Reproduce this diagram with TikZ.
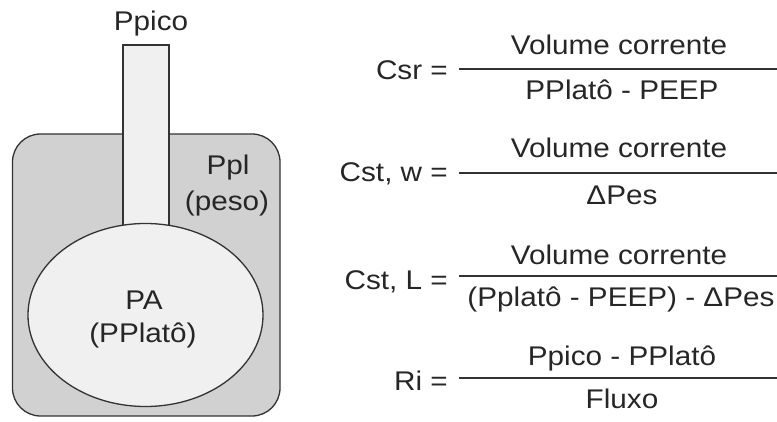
\documentclass[tikz,border=0pt]{standalone}
\usepackage{fontspec}
\setmainfont{Liberation Sans}[FakeStretch=1.1]
\begin{document}
\begin{tikzpicture}[x=1pt,y=-1pt,
  outline/.style={draw=black!80, line width=1.3pt},
  txt/.style={font=\fontsize{27}{30}\selectfont, text=black!85, inner sep=0pt},
  fracbar/.style={draw=black!80, line width=1.8pt}]
\useasboundingbox (0,0) rectangle (777,422);
% chest wall (pleural space)
\draw[outline, fill=black!18, rounded corners=28pt] (12.5,134) rectangle (280,416);
% airway tube and alveolus
\draw[outline, fill=black!6] (123,45) rectangle (169,240);
\draw[outline, fill=black!6] (145.5,315) ellipse [x radius=117.5, y radius=91.5];
% labels of the lung model
\node[txt, anchor=base] (ppico) at (151,31) {Ppico};
\node[txt, anchor=base] (ppl) at (228,175) {Ppl};
\node[txt, anchor=base] (peso) at (227,211) {(peso)};
\node[txt, anchor=base] (pa) at (144,309) {PA};
\node[txt, anchor=base] (pplato) at (143,342) {(PPlatô)};
% formulas
\coordinate (b1s) at (459,69);  \coordinate (b1e) at (777,69);
\coordinate (b2s) at (459,173); \coordinate (b2e) at (777,173);
\coordinate (b3s) at (459,276); \coordinate (b3e) at (777,276);
\coordinate (b4s) at (459,378); \coordinate (b4e) at (777,378);
\draw[fracbar] (b1s) -- (b1e);
\draw[fracbar] (b2s) -- (b2e);
\draw[fracbar] (b3s) -- (b3e);
\draw[fracbar] (b4s) -- (b4e);
\node[txt, anchor=base east] (csr) at (448,80) {Csr =};
\node[txt, anchor=base] (n1) at (619,55) {Volume corrente};
\node[txt, anchor=base] (d1) at (622,100) {PPlatô - PEEP};
\node[txt, anchor=base east] (cstw) at (448,182) {Cst, w =};
\node[txt, anchor=base] (n2) at (619,158) {Volume corrente};
\node[txt, anchor=base] (d2) at (622,205) {ΔPes};
\node[txt, anchor=base east] (cstl) at (448,290) {Cst, L =};
\node[txt, anchor=base] (n3) at (619,265) {Volume corrente};
\node[txt, anchor=base] (d3) at (621,307) {(Pplatô - PEEP) - ΔPes};
\node[txt, anchor=base east] (ri) at (448,390) {Ri =};
\node[txt, anchor=base] (n4) at (622,365) {Ppico - PPlatô};
\node[txt, anchor=base] (d4) at (622,408) {Fluxo};
\end{tikzpicture}
\end{document}
